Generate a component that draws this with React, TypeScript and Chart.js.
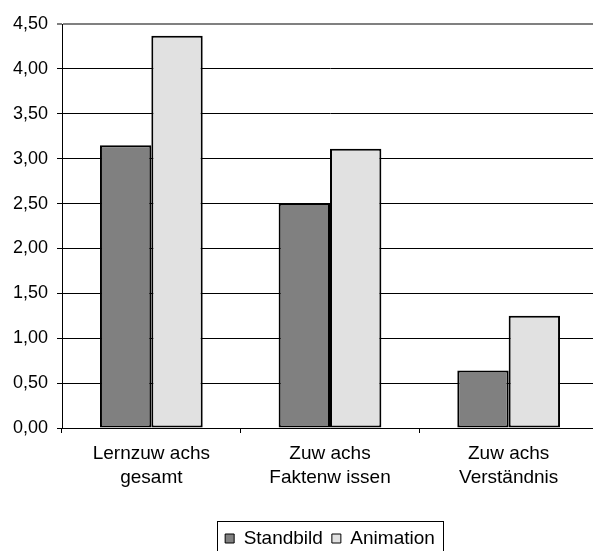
import { useEffect, useRef } from 'react';
import { Chart, registerables } from 'chart.js';

Chart.register(...registerables);

const categories: string[][] = [
  ['Lernzuw achs', 'gesamt'],
  ['Zuw achs', 'Faktenw issen'],
  ['Zuw achs', 'Verständnis'],
];
const seriesNames = ['Standbild', 'Animation'];
const standbild = [3.15, 2.5, 0.64];
const animation = [4.37, 3.11, 1.25];
const yMin = 0;
const yMax = 4.5;
const yStep = 0.5;

const FONT = 'Liberation Sans, Arial, sans-serif';

const legendBorder = {
  id: 'legendBorder',
  afterDraw(chart: any) {
    const lg = chart.legend;
    const boxes = lg && lg.legendHitBoxes;
    if (!boxes || !boxes.length) return;
    const left = Math.min(...boxes.map((b: any) => b.left)) - 8;
    const right = Math.max(...boxes.map((b: any) => b.left + b.width)) + 8;
    const top = Math.min(...boxes.map((b: any) => b.top)) - 8;
    const bottom = Math.max(...boxes.map((b: any) => b.top + b.height)) + 6;
    const ctx = chart.ctx;
    ctx.save();
    ctx.strokeStyle = '#000';
    ctx.lineWidth = 1;
    ctx.strokeRect(Math.round(left) + 0.5, Math.round(top) + 0.5, Math.round(right - left), Math.round(bottom - top));
    ctx.restore();
  },
};

export default function App() {
  const ref = useRef<HTMLCanvasElement | null>(null);
  useEffect(() => {
    if (!ref.current) return;
    const chart = new Chart(ref.current, {
      type: 'bar',
      data: {
        labels: categories,
        datasets: [
          {
            label: seriesNames[0],
            data: standbild,
            backgroundColor: '#808080',
            borderColor: '#000',
            borderWidth: 2,
            borderSkipped: false,
          },
          {
            label: seriesNames[1],
            data: animation,
            backgroundColor: '#e1e1e1',
            borderColor: '#000',
            borderWidth: 2,
            borderSkipped: false,
          },
        ],
      },
      options: {
        responsive: false,
        animation: false,
        devicePixelRatio: 1,
        layout: { padding: { left: 0, right: 0, top: 24, bottom: 0 } },
        datasets: { bar: { categoryPercentage: 0.575, barPercentage: 1.0 } },
        plugins: {
          tooltip: { enabled: false },
          legend: {
            position: 'bottom',
            labels: {
              boxWidth: 9,
              boxHeight: 9,
              padding: 9,
              color: '#000',
              font: { family: FONT, size: 19 },
              generateLabels: (chart: any) =>
                chart.data.datasets.map((d: any, i: number) => ({
                  text: d.label,
                  fillStyle: d.backgroundColor,
                  strokeStyle: '#000',
                  lineWidth: 1,
                  datasetIndex: i,
                  fontColor: '#000',
                })),
            },
          },
        },
        scales: {
          x: {
            offset: true,
            afterFit: (s: any) => {
              s.height = 92;
            },
            grid: { display: true, drawOnChartArea: false, drawTicks: true, tickLength: 5, color: '#000', offset: true },
            border: { display: true, color: '#000', width: 1 },
            ticks: { color: '#000', font: { family: FONT, size: 19, lineHeight: 1.26 }, padding: 9, maxRotation: 0, autoSkip: false },
          },
          y: {
            min: yMin,
            max: yMax,
            afterFit: (s: any) => {
              s.width = 62;
            },
            grid: {
              color: (c: any) => (c.tick && c.tick.value === yMax ? '#808080' : '#000'),
              lineWidth: (c: any) => (c.tick && c.tick.value === yMax ? 2 : 1),
              tickLength: 5,
              drawTicks: true,
            },
            border: { display: true, color: '#000', width: 1 },
            ticks: {
              stepSize: yStep,
              color: '#000',
              padding: 9,
              font: { family: FONT, size: 18 },
              callback: (v: any) => Number(v).toFixed(2).replace('.', ','),
            },
          },
          yRightSpace: {
            position: 'right',
            display: true,
            min: yMin,
            max: yMax,
            afterFit: (s: any) => {
              s.width = 62;
            },
            grid: { display: false, drawTicks: false },
            border: { display: false },
            ticks: { display: false },
          },
        },
      },
      plugins: [legendBorder],
    });
    return () => chart.destroy();
  }, []);
  return (
    <div style={{ position: 'fixed', left: 0, top: 0, width: 593, height: 551, overflow: 'hidden', background: '#fff' }}>
      <canvas ref={ref} width={660} height={558} />
    </div>
  );
}
